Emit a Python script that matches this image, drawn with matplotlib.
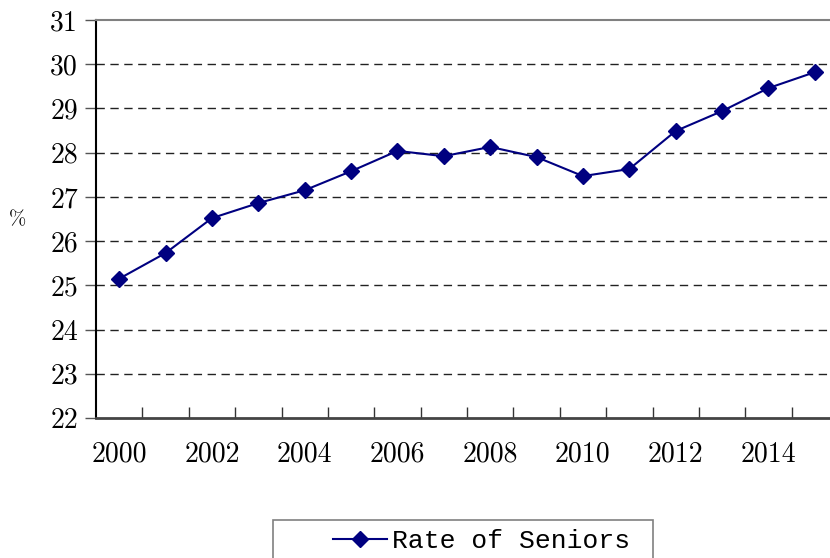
import matplotlib
matplotlib.use("Agg")
import matplotlib.pyplot as plt
import matplotlib.patches as mpatches
from matplotlib.ticker import FixedLocator

# ── Data ─────────────────────────────────────────────────────
years = list(range(2000, 2016))
rate = [25.15, 25.73, 26.52, 26.86, 27.15, 27.58, 28.04, 27.92,
        28.13, 27.90, 27.47, 27.63, 28.49, 28.94, 29.46, 29.82]
y_ticks = [22, 23, 24, 25, 26, 27, 28, 29, 30, 31]
x_labels = [2000, 2002, 2004, 2006, 2008, 2010, 2012, 2014]

# ── Palette / layout ─────────────────────────────────────────
NAVY = "#000080"
DPI = 100
W, H = 830, 558
SERIF = ["cmr10", "DejaVu Serif"]
MONO = ["Liberation Mono", "DejaVu Sans Mono"]

fig = plt.figure(figsize=(W / DPI, H / DPI), dpi=DPI)
fig.patch.set_facecolor("white")

# axes run a bit past the right edge, as in the original
ax = fig.add_axes([96 / W, (H - 418) / H, 742 / W, 398 / H])

ax.plot(years, rate, color=NAVY, lw=1.5, marker="D", markersize=8.5,
        markerfacecolor=NAVY, markeredgecolor=NAVY, label="Rate of Seniors",
        zorder=3, clip_on=False)

ax.set_xlim(1999.5, 2015.5)
ax.set_ylim(22, 31)

# y axis
ax.set_yticks(y_ticks)
ax.set_yticklabels([str(v) for v in y_ticks], family=SERIF, fontsize=20)
ax.tick_params(axis="y", direction="out", length=8, width=1,
               color="#555555", pad=5)
for v in y_ticks[1:-1]:
    ax.axhline(v, color="#222222", lw=1, ls=(0, (6, 4)), zorder=1)

# x axis: labels on even years, ticks between categories
ax.xaxis.set_major_locator(FixedLocator(x_labels))
ax.set_xticklabels([str(v) for v in x_labels], family=SERIF, fontsize=20)
ax.xaxis.set_minor_locator(FixedLocator([y + 0.5 for y in years]))
ax.tick_params(axis="x", which="major", length=0, pad=17)
ax.tick_params(axis="x", which="minor", direction="in", length=8,
               width=1, color="#333333")

ax.spines["left"].set_color("black")
ax.spines["left"].set_linewidth(1.5)
ax.spines["bottom"].set_color("#444444")
ax.spines["bottom"].set_linewidth(2)
ax.spines["top"].set_color("#808080")
ax.spines["top"].set_linewidth(1.5)
ax.spines["right"].set_visible(False)

fig.text(18 / W, 1 - 220 / H, "%", family=SERIF, fontsize=15,
         ha="center", va="center")

# ── Legend (frame drawn by hand, runs off the bottom) ─────────
frame = mpatches.Rectangle((273 / W, 1 - 575 / H), 380 / W, 55 / H,
                           transform=fig.transFigure, facecolor="white",
                           edgecolor="#808080", lw=1.2)
fig.patches.append(frame)
fig.legend(loc="center left", bbox_to_anchor=(333 / W, 1 - 541 / H),
           frameon=False, numpoints=1, handlelength=2.05,
           handletextpad=0.2, borderpad=0, borderaxespad=0,
           prop={"family": MONO, "size": 19})

fig.savefig("out.png", dpi=DPI, facecolor="white")
